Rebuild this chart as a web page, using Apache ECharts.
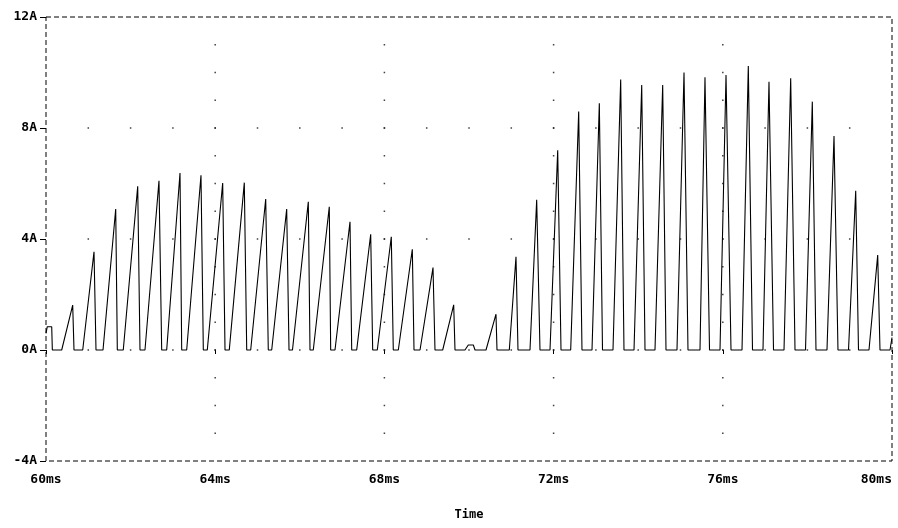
<!DOCTYPE html>
<html>
<head>
<meta charset="utf-8">
<script src="https://cdn.jsdelivr.net/npm/echarts@6/dist/echarts.min.js"></script>
<style>
  html, body { margin: 0; background: #fff; }
  #chart { width: 898px; height: 528px; }
</style>
</head>
<body>
<div id="chart"></div>
<script>
// Pulse edges: start of rise, peak, end of fall (ms), peak current (A)
const riseT = [60.371, 60.868, 61.348, 61.827, 62.340, 62.853, 63.326, 63.813, 64.333, 64.839,
  65.336, 65.827, 66.319, 66.832, 67.345, 67.832, 68.329, 68.842, 69.378,
  70.402, 70.953, 71.442, 71.915, 72.404, 72.908, 73.404, 73.901, 74.397, 74.917,
  75.461, 75.934, 76.454, 76.950, 77.447, 77.955, 78.463, 78.972, 79.456];
const peakT = [60.631, 61.135, 61.648, 62.168, 62.671, 63.168, 63.664, 64.177, 64.688, 65.194,
  65.690, 66.201, 66.697, 67.187, 67.676, 68.163, 68.660, 69.149, 69.638,
  70.638, 71.111, 71.600, 72.097, 72.593, 73.081, 73.586, 74.083, 74.579, 75.083,
  75.579, 76.076, 76.603, 77.092, 77.605, 78.116, 78.629, 79.142, 79.662];
const peakA = [1.62, 3.54, 5.08, 5.90, 6.10, 6.38, 6.30, 6.02, 6.03, 5.44,
  5.08, 5.34, 5.16, 4.62, 4.17, 4.08, 3.63, 2.97, 1.63,
  1.29, 3.36, 5.41, 7.20, 8.59, 8.89, 9.75, 9.55, 9.55, 10.00,
  9.83, 9.91, 10.23, 9.67, 9.79, 8.95, 7.71, 5.74, 3.42];
const fallT = [60.662, 61.182, 61.686, 62.222, 62.735, 63.208, 63.719, 64.232, 64.745, 65.255,
  65.745, 66.241, 66.730, 67.227, 67.723, 68.210, 68.700, 69.196, 69.669,
  70.662, 71.158, 71.678, 72.175, 72.671, 73.156, 73.664, 74.161, 74.657, 75.177,
  75.686, 76.194, 76.702, 77.199, 77.707, 78.203, 78.723, 79.208, 79.716];

// Irregular bits: step at window start, small bump near 70ms, last rising edge
const extraT = [60.0, 60.03, 60.135, 60.15, 69.905, 69.983, 70.102, 70.142, 79.953, 80.0];
const extraA = [0.6, 0.84, 0.84, 0, 0, 0.18, 0.18, 0, 0, 0.45];

const xTicks = [60, 64, 68, 72, 76, 80];
const yTicks = [-4, 0, 4, 8, 12];

const trace = [];
extraT.forEach((t, i) => trace.push([t, extraA[i]]));
peakT.forEach((t, i) => {
  trace.push([riseT[i], 0], [t, peakA[i]], [fallT[i], 0]);
});
trace.sort((a, b) => a[0] - b[0]);

// PSpice-style dotted grid: dots every 1ms along inner major rows, every 1A along inner major columns
const dots = [];
const xMin = xTicks[0], xMax = xTicks[xTicks.length - 1];
const yMin = yTicks[0], yMax = yTicks[yTicks.length - 1];
yTicks.slice(1, -1).forEach((y) => {
  for (let t = xMin + 1; t < xMax; t++) dots.push([t, y]);
});
xTicks.slice(1, -1).forEach((t) => {
  for (let y = yMin + 1; y < yMax; y++) dots.push([t, y]);
});

const FONT = '"DejaVu Sans Mono", monospace';

const chart = echarts.init(document.getElementById('chart'));
chart.setOption({
  animation: false,
  backgroundColor: '#fff',
  grid: {
    left: 46, right: 6, top: 17, bottom: 67,
    outerBoundsMode: 'none',
    containLabel: false,
    show: true,
    borderColor: '#000',
    borderWidth: 1,
    borderType: [5, 3],
  },
  xAxis: {
    type: 'value',
    min: 60, max: 80, interval: 4,
    name: 'Time',
    nameLocation: 'middle',
    nameGap: 48,
    nameTextStyle: { color: '#000', fontFamily: FONT, fontWeight: 'bold', fontSize: 12 },
    axisLine: { show: false },
    axisTick: { show: true, length: 4, lineStyle: { color: '#000' } },
    splitLine: { show: false },
    axisLabel: {
      color: '#000', fontFamily: FONT, fontWeight: 'bold', fontSize: 13, margin: 12,
      alignMaxLabel: 'right',
      formatter: (v) => v + 'ms',
    },
  },
  yAxis: {
    type: 'value',
    min: -4, max: 12, interval: 4,
    axisLine: { show: false },
    axisTick: { show: true, length: 6, lineStyle: { color: '#000' } },
    splitLine: { show: false },
    axisLabel: {
      color: '#000', fontFamily: FONT, fontWeight: 'bold', fontSize: 13, margin: 9,
      formatter: (v) => v + 'A',
    },
  },
  series: [
    {
      type: 'scatter',
      data: dots,
      symbol: 'rect',
      symbolSize: 1.5,
      itemStyle: { color: '#111' },
      silent: true,
      z: 1,
    },
    {
      type: 'line',
      data: trace,
      showSymbol: false,
      lineStyle: { color: '#000', width: 1.1 },
      z: 2,
    },
  ],
});
</script>
</body>
</html>
